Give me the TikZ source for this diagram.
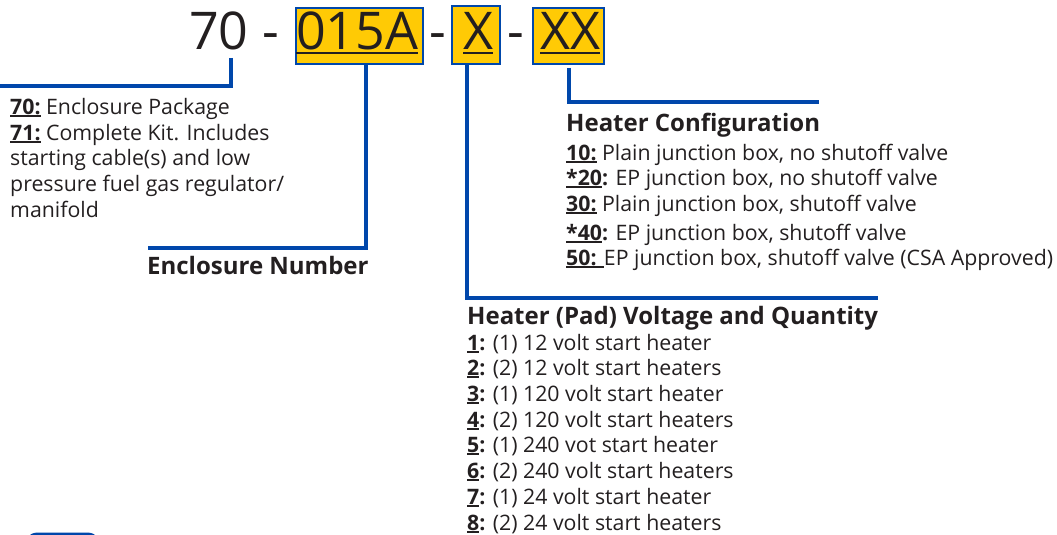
\documentclass[tikz,border=0pt]{standalone}
\usepackage{fontspec}
\setmainfont{Open Sans}
\definecolor{lineblue}{HTML}{0047AB}
\definecolor{gold}{HTML}{FFCA05}
\definecolor{ink}{HTML}{231F20}
\newcommand\ulx[1]{\setbox0\hbox{#1}\rlap{\rule[-2.8pt]{\wd0}{1.4pt}}\box0\relax}
\newcommand\bigul[1]{\setbox0\hbox{#1}\rlap{\rule[-3.5pt]{\wd0}{2pt}}\box0\relax}
\tikzset{
  txt/.style={anchor=base west, inner sep=0pt, text=ink, font=\fontsize{21.3}{25}\selectfont},
  hd/.style={anchor=base west, inner sep=0pt, text=ink, font=\fontsize{24}{28}\selectfont\bfseries},
  big/.style={anchor=base west, inner sep=0pt, text=ink, font=\fontsize{52}{60}\selectfont},
  codebox/.style={draw=lineblue, line width=2pt, fill=gold, inner sep=0pt},
  conn/.style={draw=lineblue, line width=4pt}
}
\begin{document}
\begin{tikzpicture}[x=1pt,y=-1pt]
\useasboundingbox (0,0) rectangle (1057,535);
% code boxes
\node[codebox, minimum width=127pt, minimum height=56pt] (b1) at (359.5,36) {};
\node[codebox, minimum width=48pt, minimum height=58pt] (b2) at (476,35) {};
\node[codebox, minimum width=71pt, minimum height=56pt] (b3) at (568.5,36) {};
% code text
\node[big] (t70) at (189,50) {70};
\node[big] (h1) at (262,50) {-};
\node[big] (t1) at (296,50) {\bigul{015A}};
\node[big] (h2) at (429,50) {-};
\node[big] (t2) at (463,50) {\bigul{X}};
\node[big] (h3) at (507,50) {-};
\node[big] (t3) at (540,50) {\bigul{XX}};
% connector ends
\coordinate (s70) at (230.5,58);
\coordinate (e70) at (0,85.5);
\coordinate (e1) at (148,248);
\coordinate (e2) at (878,298);
\coordinate (e3) at (819,102);
\draw[conn] (s70) |- (e70);
\draw[conn] ([xshift=6.5pt]b1.south) |- (e1);
\draw[conn] ([xshift=-9pt]b2.south) |- (e2);
\draw[conn] ([yshift=-3pt]b3.south) |- (e3);
% left text
\node[txt] (l1) at (10,114) {\ulx{\textbf{70:}} Enclosure Package};
\node[txt] (l2) at (10,140) {\ulx{\textbf{71:}} Complete Kit. Includes};
\node[txt] (l3) at (10,165) {starting cable(s) and low};
\node[txt] (l4) at (10,191) {pressure fuel gas regulator/};
\node[txt] (l5) at (10,217) {manifold};
\node[hd] (enc) at (147,274) {Enclosure Number};
% heater configuration
\node[hd] (hc) at (566,131) {Heater Configuration};
\node[txt] (c1) at (566,160) {\ulx{\textbf{10:}} Plain junction box, no shutoff valve};
\node[txt] (c2) at (566,185) {\ulx{\textbf{*20}}\textbf{:} EP junction box, no shutoff valve};
\node[txt] (c3) at (566,211) {\ulx{\textbf{30:}} Plain junction box, shutoff valve};
\node[txt] (c4) at (566,240) {\ulx{\textbf{*40}}\textbf{:} EP junction box, shutoff valve};
\node[txt] (c5) at (566,265) {\ulx{\textbf{50:} }EP junction box, shutoff valve (CSA Approved)};
% heater voltage
\node[hd] (hv) at (467,324) {Heater (Pad) Voltage and Quantity};
\node[txt] (v1) at (467,350) {\ulx{\textbf{1}}\textbf{:} (1) 12 volt start heater};
\node[txt] (v2) at (467,375) {\ulx{\textbf{2}}\textbf{:} (2) 12 volt start heaters};
\node[txt] (v3) at (467,401) {\ulx{\textbf{3}}\textbf{:} (1) 120 volt start heater};
\node[txt] (v4) at (467,427) {\ulx{\textbf{4}}\textbf{:} (2) 120 volt start heaters};
\node[txt] (v5) at (467,452) {\ulx{\textbf{5}}\textbf{:} (1) 240 vot start heater};
\node[txt] (v6) at (467,478) {\ulx{\textbf{6}}\textbf{:} (2) 240 volt start heaters};
\node[txt] (v7) at (467,504) {\ulx{\textbf{7}}\textbf{:} (1) 24 volt start heater};
\node[txt] (v8) at (467,530) {\ulx{\textbf{8}}\textbf{:} (2) 24 volt start heaters};
% cut-off shape at bottom left
\begin{scope}
\clip (0,0) rectangle (1057,535);
\draw[lineblue, line width=3pt, rounded corners=14pt] (24,570) rectangle (101,534);
\end{scope}
\end{tikzpicture}
\end{document}
